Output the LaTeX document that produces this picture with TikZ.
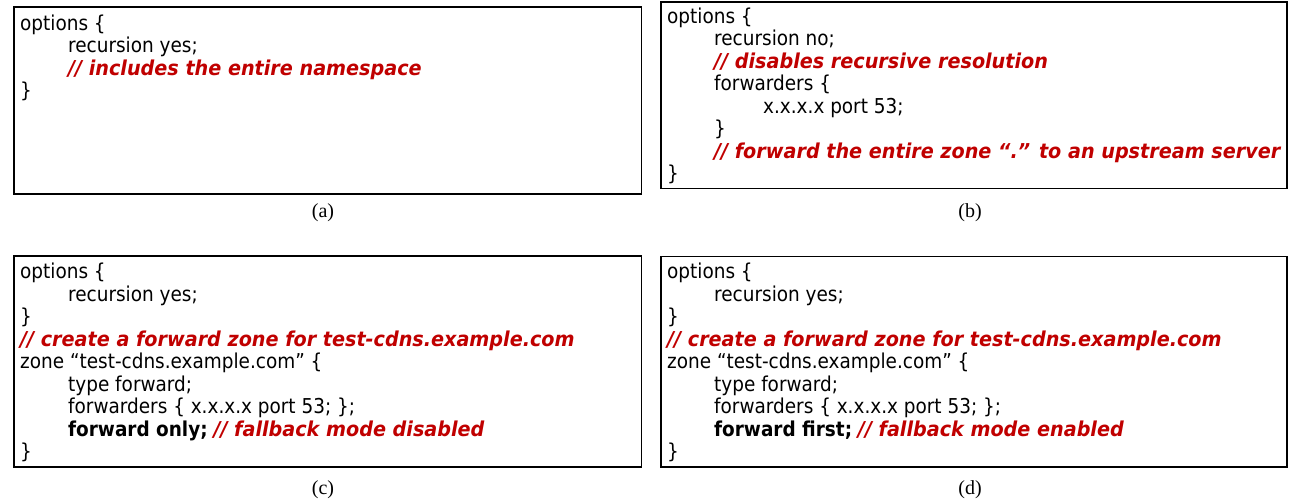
\documentclass[tikz,border=0pt]{standalone}
\usepackage{fontspec}
\setmainfont{DejaVu Sans Condensed}[BoldItalicFeatures={FakeStretch=1.04}]
\newfontfamily\capfont{Liberation Serif}
\definecolor{cmt}{RGB}{192,0,0}

\begin{document}
\begin{tikzpicture}[x=1pt,y=-1pt,
  panel/.style={draw=black, line width=1.7pt, inner sep=0pt, outer sep=0pt, anchor=north west},
  code/.style={anchor=base west, inner sep=0pt, font=\fontsize{20.5}{24}\selectfont},
  comment/.style={code, text=cmt, font=\fontsize{20.5}{24}\selectfont\bfseries\itshape},
  caption/.style={inner sep=0pt, font=\capfont\fontsize{20}{24}\selectfont}]
\useasboundingbox (0,0) rectangle (1296,501);

% panel frames
\node[panel, minimum width=627.5pt, minimum height=187pt] (pa) at (14,7) {};
\node[panel, minimum width=626pt, minimum height=186.5pt] (pb) at (661,2) {};
\node[panel, minimum width=627.5pt, minimum height=211pt] (pc) at (14,256) {};
\node[panel, minimum width=626pt, minimum height=210.5pt] (pd) at (661,256.5) {};

% (a) recursive resolver
\node[code] (a1) at (20,30) {options \{};
\node[code] (a2) at (68,52.6) {recursion yes;};
\node[comment] (a3) at (68,75.2) {// includes the entire namespace};
\node[code] (a4) at (20,97.8) {\}};

% (b) forwarding everything upstream
\node[code] (b1) at (667,23) {options \{};
\node[code] (b2) at (714,45.5) {recursion no;};
\node[comment] (b3) at (714,68) {// disables recursive resolution};
\node[code] (b4) at (714,90.5) {forwarders \{};
\node[code] (b5) at (763,113) {x.x.x.x port 53;};
\node[code] (b6) at (714,135.5) {\}};
\node[comment] (b7) at (714,158) {// forward the entire zone “.” to an upstream server};
\node[code] (b8) at (667,180.5) {\}};

% (c) forward zone, forward only
\node[code] (c1) at (20,278.5) {options \{};
\node[code] (c2) at (68,301) {recursion yes;};
\node[code] (c3) at (20,323.5) {\}};
\node[comment] (c4) at (20,346) {// create a forward zone for test-cdns.example.com};
\node[code] (c5) at (20,368.5) {zone “test-cdns.example.com” \{};
\node[code] (c6) at (68,391) {type forward;};
\node[code] (c7) at (68,413.5) {forwarders \{ x.x.x.x port 53; \};};
\node[code] (c8) at (68,436) {\textbf{forward only;} \textcolor{cmt}{\bfseries\itshape // fallback mode disabled}};
\node[code] (c9) at (20,458.5) {\}};

% (d) forward zone, forward first
\node[code] (d1) at (667,278.5) {options \{};
\node[code] (d2) at (714,301) {recursion yes;};
\node[code] (d3) at (667,323.5) {\}};
\node[comment] (d4) at (667,346) {// create a forward zone for test-cdns.example.com};
\node[code] (d5) at (667,368.5) {zone “test-cdns.example.com” \{};
\node[code] (d6) at (714,391) {type forward;};
\node[code] (d7) at (714,413.5) {forwarders \{ x.x.x.x port 53; \};};
\node[code] (d8) at (714,436) {\textbf{forward first;} \textcolor{cmt}{\bfseries\itshape // fallback mode enabled}};
\node[code] (d9) at (667,458.5) {\}};

% sub-figure labels
\node[caption] (capa) at (323,213) {(a)};
\node[caption] (capb) at (970,213) {(b)};
\node[caption] (capc) at (323,490) {(c)};
\node[caption] (capd) at (970,490) {(d)};
\end{tikzpicture}
\end{document}
